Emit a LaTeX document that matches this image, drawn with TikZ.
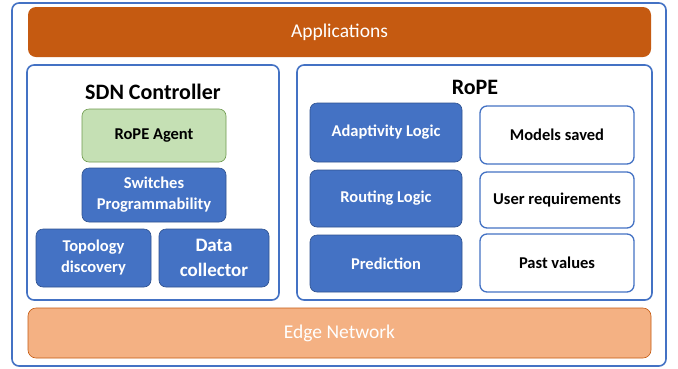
\documentclass[tikz,border=0pt]{standalone}
\usepackage{fontspec}
\setmainfont{Carlito}
\definecolor{ppblue}{HTML}{4472C4}
\definecolor{ppdark}{HTML}{2F528F}
\definecolor{pporange}{HTML}{C55A11}
\definecolor{pppeach}{HTML}{F4B183}
\definecolor{ppgreen}{HTML}{C5E0B4}
\definecolor{ppgreenline}{HTML}{6F9A4E}
\tikzset{
  panel/.style={draw=ppblue, line width=1.6pt, rounded corners=7pt, fill=white, inner sep=0pt},
  band/.style={rounded corners=8pt, inner sep=0pt, text=white, font=\fontsize{19.5}{22}\selectfont},
  bluebox/.style={draw=ppdark, line width=0.6pt, fill=ppblue, rounded corners=7pt, inner sep=0pt,
    text=white, align=center, font=\bfseries\fontsize{16.5}{21}\selectfont},
  whitebox/.style={draw=ppblue, line width=1.3pt, fill=white, rounded corners=7pt, inner sep=0pt,
    text=black, align=center, font=\bfseries\fontsize{16.5}{21}\selectfont},
  heading/.style={font=\bfseries\fontsize{22}{24}\selectfont}
}
\begin{document}
\begin{tikzpicture}[x=1pt,y=-1pt]

\useasboundingbox (0,0) rectangle (678,368);

% outer frame and the two bands
\node[panel, minimum width=654pt, minimum height=363pt] (frame) at (339,184.5) {};
\node[band, fill=pporange, minimum width=623pt, minimum height=50pt] (apps) at (339.5,32) {Applications};
\node[band, fill=pppeach, draw=pporange, line width=0.6pt, minimum width=623pt, minimum height=50pt, text=white] (edge) at (339.5,333) {Edge Network};

% SDN controller
\node[panel, minimum width=252pt, minimum height=235pt] (sdn) at (153,182.5) {};
\node[heading] (sdntitle) at (153,92) {SDN Controller};
\node[bluebox, fill=ppgreen, draw=ppgreenline, text=black, minimum width=144pt, minimum height=53pt] (agent) at (154,135.5) {RoPE Agent};
\node[bluebox, minimum width=144pt, minimum height=54pt] (switches) at (154,195) {Switches\\Programmability};
\node[bluebox, minimum width=115pt, minimum height=58pt] (topo) at (93.5,258) {Topology\\discovery};
\node[bluebox, minimum width=110pt, minimum height=58pt, font=\bfseries\fontsize{19}{25}\selectfont] (collector) at (214,258) {Data\\collector};

% RoPE
\node[panel, minimum width=355pt, minimum height=235pt] (rope) at (474.5,182.5) {};
\node[heading] (ropetitle) at (475,87) {RoPE};
\node[bluebox, minimum width=152pt, minimum height=59pt] (adapt) at (386,132.5) {Adaptivity Logic};
\node[bluebox, minimum width=152pt, minimum height=57pt] (routing) at (386,198.5) {Routing Logic};
\node[bluebox, minimum width=152pt, minimum height=57pt] (pred) at (386,263.5) {Prediction};
\node[whitebox, minimum width=154pt, minimum height=58pt] (models) at (557,135) {Models saved};
\node[whitebox, minimum width=154pt, minimum height=56pt] (userreq) at (557,200) {User requirements};
\node[whitebox, minimum width=154pt, minimum height=58pt] (past) at (557,263) {Past values};

\end{tikzpicture}
\end{document}
